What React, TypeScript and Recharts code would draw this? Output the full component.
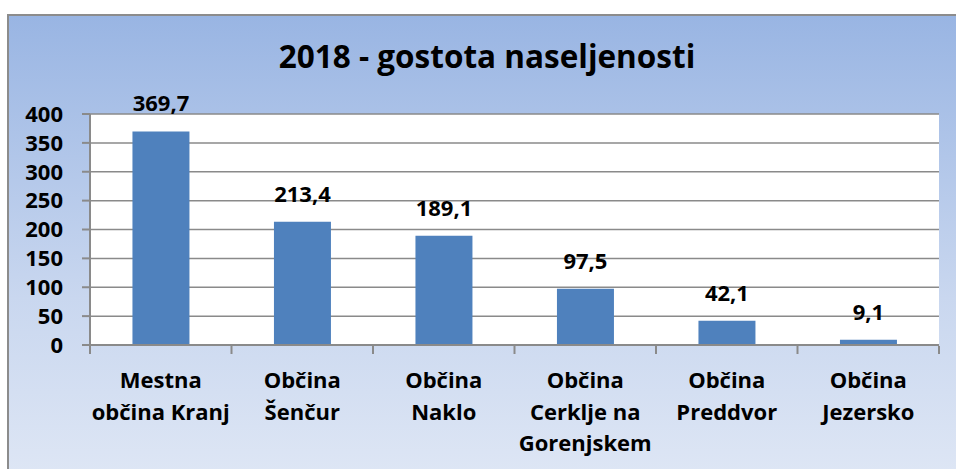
import { BarChart, Bar, XAxis, YAxis, CartesianGrid, LabelList } from 'recharts';

const categories = [
  'Mestna\nobčina Kranj',
  'Občina\nŠenčur',
  'Občina\nNaklo',
  'Občina\nCerklje na\nGorenjskem',
  'Občina\nPreddvor',
  'Občina\nJezersko',
];
const density = [369.7, 213.4, 189.1, 97.5, 42.1, 9.1];
const yTicks = [0, 50, 100, 150, 200, 250, 300, 350, 400];
const edgeTicks = [0, 1, 2, 3, 4, 5, 6];

const FONT = '"Open Sans", sans-serif';
const AXIS = '#8a8a8a';

const data = categories.map((name, i) => ({ name, value: density[i], edge: i }));

function CategoryTick(props: any) {
  const { x, y, payload } = props;
  const lines = String(payload.value).split('\n');
  return (
    <text x={x} y={y} textAnchor="middle" fontFamily={FONT} fontWeight={700} fontSize={22} fill="#000">
      {lines.map((l, i) => (
        <tspan key={i} x={x} dy={i === 0 ? 35 : 31.5}>
          {l}
        </tspan>
      ))}
    </text>
  );
}

function EmptyTick() {
  return <g />;
}

export default function App() {
  return (
    <div style={{ position: 'absolute', left: 0, top: 0, width: 956, height: 469, overflow: 'hidden', background: '#fff' }}>
      <div
        style={{
          position: 'absolute',
          left: 7,
          top: 14,
          width: 970,
          height: 470,
          border: '2px solid #8c8c8c',
          background: 'linear-gradient(to bottom, #99b5e3 0%, #c9d7ef 60%, #dfe7f5 100%)',
        }}
      />
      <div
        style={{
          position: 'absolute',
          left: 0,
          width: 974,
          top: 36,
          textAlign: 'center',
          fontFamily: FONT,
          fontWeight: 700,
          fontSize: 31.5,
          lineHeight: '40px',
          color: '#000',
        }}
      >
        2018 - gostota naseljenosti
      </div>
      <div style={{ position: 'absolute', left: 0, top: 0 }}>
        <BarChart
          width={956}
          height={469}
          data={data}
          margin={{ top: 114, right: 17, bottom: 0, left: 0 }}
          barCategoryGap="30%"
        >
          <CartesianGrid vertical={false} fill="#ffffff" stroke={AXIS} strokeWidth={1.5} />
          <XAxis
            dataKey="name"
            height={1}
            interval={0}
            tickLine={false}
            axisLine={{ stroke: AXIS, strokeWidth: 2 }}
            tick={<CategoryTick />}
          />
          <XAxis
            xAxisId="edges"
            dataKey="edge"
            type="number"
            domain={[0, 6]}
            allowDataOverflow
            ticks={edgeTicks}
            interval={0}
            tick={<EmptyTick />}
            height={123}
            axisLine={false}
            tickLine={{ stroke: AXIS, strokeWidth: 2 }}
            tickSize={8}
          />
          <YAxis
            width={90}
            domain={[0, 400]}
            ticks={yTicks}
            interval={0}
            tickSize={8}
            tickMargin={19}
            axisLine={{ stroke: AXIS, strokeWidth: 2 }}
            tickLine={{ stroke: AXIS, strokeWidth: 2 }}
            tick={{ fontFamily: FONT, fontWeight: 700, fontSize: 22, fill: '#000' }}
          />
          <Bar dataKey="value" fill="#4f81bd" isAnimationActive={false}>
            <LabelList
              dataKey="value"
              position="top"
              offset={20}
              formatter={(v: any) => String(v).replace('.', ',')}
              style={{ fontFamily: FONT, fontWeight: 700, fontSize: 22, fill: '#000' }}
            />
          </Bar>
        </BarChart>
      </div>
    </div>
  );
}
